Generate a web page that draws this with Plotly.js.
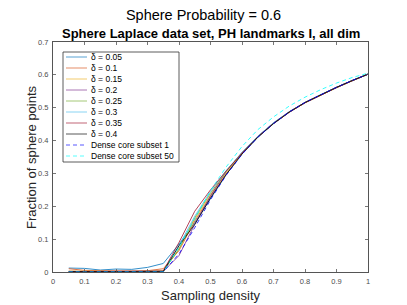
<!DOCTYPE html>
<html>
<head>
<meta charset="utf-8">
<script src="https://cdn.plot.ly/plotly-3.0.1.min.js"></script>
<style>html,body{margin:0;padding:0;background:#fff;}#chart{width:407px;height:305px;}</style>
</head>
<body>
<div id="chart"></div>
<script>
// ---- data ----
const samplingDensity = [0.05,0.1,0.15,0.2,0.25,0.3,0.35,0.4,0.45,0.5,0.55,0.6,0.65,0.7,0.75,0.8,0.85,0.9,0.95,1.0];
const delta005 = [0.012,0.011,0.006,0.009,0.008,0.014,0.026,0.085,0.150,0.225,0.297,0.359,0.410,0.451,0.486,0.515,0.540,0.562,0.583,0.602];
const delta010 = [0.010,0.005,0.004,0.003,0.003,0.004,0.010,0.065,0.155,0.230,0.299,0.360,0.411,0.452,0.487,0.515,0.539,0.561,0.582,0.602];
const delta015 = [0.003,0.002,0.002,0.002,0.001,0.002,0.004,0.070,0.160,0.235,0.302,0.362,0.412,0.453,0.487,0.516,0.540,0.562,0.583,0.603];
const delta020 = [0.002,0.001,0.001,0.001,0.001,0.001,0.002,0.050,0.145,0.232,0.306,0.364,0.413,0.454,0.488,0.516,0.540,0.562,0.583,0.602];
const delta025 = [0.001,0.001,0.001,0.001,0.001,0.001,0.002,0.070,0.165,0.240,0.307,0.363,0.412,0.453,0.487,0.515,0.539,0.561,0.582,0.602];
const delta030 = [0.001,0.001,0.001,0.001,0.001,0.001,0.002,0.080,0.170,0.245,0.309,0.364,0.413,0.454,0.488,0.516,0.540,0.562,0.583,0.603];
const delta035 = [0.001,0.001,0.001,0.001,0.001,0.001,0.003,0.090,0.185,0.250,0.308,0.362,0.411,0.452,0.486,0.515,0.539,0.561,0.582,0.602];
const delta040 = [0.001,0.001,0.001,0.001,0.001,0.001,0.001,0.080,0.145,0.225,0.297,0.359,0.410,0.452,0.487,0.516,0.540,0.562,0.583,0.602];
const denseSubset1 = [0,0,0,0,0,0,0,0.055,0.135,0.220,0.295,0.358,0.410,0.452,0.487,0.516,0.540,0.562,0.583,0.602];
const denseSubset50 = [0,0,0,0,0,0,0,0.075,0.160,0.248,0.320,0.382,0.433,0.472,0.505,0.532,0.555,0.575,0.592,0.605];

const seriesNames = ['δ = 0.05','δ = 0.1','δ = 0.15','δ = 0.2','δ = 0.25','δ = 0.3','δ = 0.35','δ = 0.4','Dense core subset 1','Dense core subset 50'];
const seriesValues = [delta005,delta010,delta015,delta020,delta025,delta030,delta035,delta040,denseSubset1,denseSubset50];
const xTickVals = [0,0.1,0.2,0.3,0.4,0.5,0.6,0.7,0.8,0.9,1];
const xTickText = ['0','0.1','0.2','0.3','0.4','0.5','0.6','0.7','0.8','0.9','1'];
const yTickVals = [0,0.1,0.2,0.3,0.4,0.5,0.6,0.7];
const yTickText = ['0','0.1','0.2','0.3','0.4','0.5','0.6','0.7'];

// ---- styles ----
const colors = ['#0072bd','#d95319','#edb120','#7e2f8e','#77ac30','#4dbeee','#a2142f','#000000','#0000ff','#00ffff'];
const dashes = ['solid','solid','solid','solid','solid','solid','solid','solid','4px,3px','4px,3px'];
const FONT = '"Liberation Sans", Arial, Helvetica, sans-serif';

// plot area in pixels
const W = 407, H = 305, L = 53, R = 368, T = 42, B = 272;
const pw = R - L, ph = B - T;
const px2x = p => (p - L) / pw;
const py2y = p => (B - p) / ph;

const traces = seriesValues.map((vals, i) => ({
  x: samplingDensity, y: vals, type: 'scatter', mode: 'lines',
  name: seriesNames[i], showlegend: false, hoverinfo: 'skip',
  line: {color: colors[i], width: 0.8, dash: dashes[i]}
}));

// manual legend (box + samples + labels)
const shapes = [];
const annotations = [];
const legL = 63, legR = 179, legT = 52, legB = 162, rowH = 11, firstRow = 57;
shapes.push({type:'rect', xref:'paper', yref:'paper', x0:px2x(legL), x1:px2x(legR), y0:py2y(legB), y1:py2y(legT),
  line:{color:'#333333', width:0.8}, fillcolor:'#ffffff', layer:'above'});
seriesNames.forEach((n, i) => {
  const yy = py2y(firstRow + i * rowH);
  shapes.push({type:'line', xref:'paper', yref:'paper', x0:px2x(66), x1:px2x(87), y0:yy, y1:yy,
    line:{color: colors[i], width: 1, dash: dashes[i]}, opacity:0.65, layer:'above'});
  annotations.push({xref:'paper', yref:'paper', x:px2x(89), y:yy, xanchor:'left', yanchor:'middle',
    text: n, showarrow:false, font:{family:FONT, size:8.5, color:'#000'}});
});
// subtitle
annotations.push({xref:'paper', yref:'paper', x:0.5, y:py2y(33), xanchor:'center', yanchor:'middle',
  text:'<b>Sphere Laplace data set, PH landmarks I, all dim</b>', showarrow:false,
  font:{family:FONT, size:13, color:'#000'}});
// axis titles
annotations.push({xref:'paper', yref:'paper', x:0.5, y:py2y(295), xanchor:'center', yanchor:'middle',
  text:'Sampling density', showarrow:false, font:{family:FONT, size:13, color:'#262626'}});
annotations.push({xref:'paper', yref:'paper', x:px2x(31), y:0.5, xanchor:'center', yanchor:'middle', textangle:-90,
  text:'Fraction of sphere points', showarrow:false, font:{family:FONT, size:13, color:'#262626'}});

const axisCommon = {
  showgrid:false, zeroline:false, showline:true, linecolor:'#555555', linewidth:1,
  mirror:'ticks', ticks:'inside', ticklen:3, tickwidth:0.8, tickcolor:'#555555',
  tickfont:{family:FONT, size:7.5, color:'#4d4d4d'}, fixedrange:true
};

const layout = {
  width: W, height: H,
  margin: {l:L, r:W-R, t:T, b:H-B, pad:0},
  paper_bgcolor:'#ffffff', plot_bgcolor:'#ffffff',
  title: {text:'Sphere Probability = 0.6', font:{family:FONT, size:14.5, color:'#000'},
    x:0.5, xref:'container', xanchor:'center', y:1 - 15/H, yref:'container', yanchor:'middle'},
  xaxis: Object.assign({}, axisCommon, {range:[0,1], tickmode:'array', tickvals:xTickVals, ticktext:xTickText, ticklabelstandoff:2}),
  yaxis: Object.assign({}, axisCommon, {range:[0,0.7], tickmode:'array', tickvals:yTickVals, ticktext:yTickText, ticklabelstandoff:2}),
  shapes: shapes, annotations: annotations, showlegend:false
};

Plotly.newPlot('chart', traces, layout, {staticPlot:true, displayModeBar:false});
</script>
</body>
</html>
